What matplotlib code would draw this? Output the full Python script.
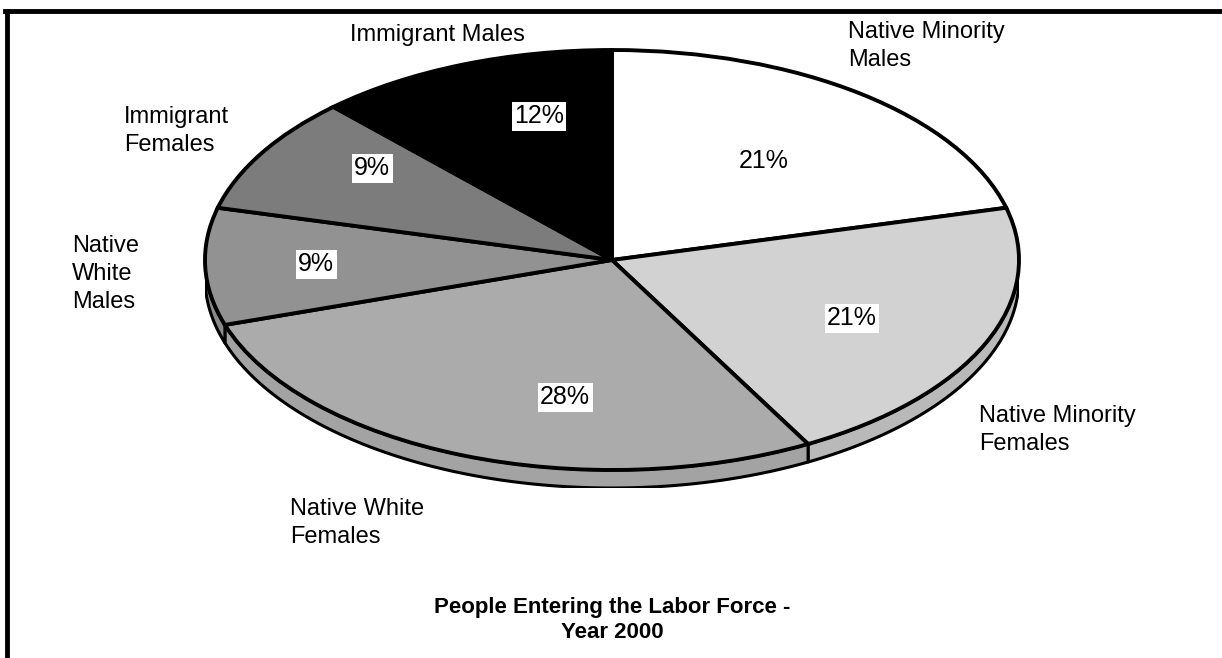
import numpy as np
import matplotlib
matplotlib.use("Agg")
import matplotlib.pyplot as plt
from matplotlib.lines import Line2D

plt.rcParams['font.family'] = ['Liberation Sans', 'DejaVu Sans']

# ---- data ----
categories = ["Native Minority\nMales", "Native Minority\nFemales", "Native White\nFemales",
              "Native\nWhite\nMales", "Immigrant\nFemales", "Immigrant Males"]
values = [21, 21, 28, 9, 9, 12]
pct_labels = ["21%", "21%", "28%", "9%", "9%", "12%"]
top_colors = ["#ffffff", "#d2d2d2", "#ababab", "#929292", "#7c7c7c", "#000000"]
side_colors = ["#e0e0e0", "#b9b9b9", "#a3a3a3", "#8a8a8a", "#747474", "#000000"]
title = "People Entering the Labor Force -\nYear 2000"

W, H = 1222, 658
fig = plt.figure(figsize=(W / 100, H / 100), dpi=100)

# ---- pie geometry (pixels) ----
cx_l, cx_r = 205, 1019
top_y, top_bottom = 50, 470
depth_px = 18
ry = (top_bottom - top_y) / 2
d = depth_px / ry

axp = fig.add_axes([cx_l / W, (H - top_bottom - depth_px) / H,
                    (cx_r - cx_l) / W, (top_bottom + depth_px - top_y) / H])

# side (depth) of the 3D pie
frac = np.array(values, dtype=float) / sum(values)
cum = np.concatenate([[0], np.cumsum(frac)])
for i in range(len(values)):
    a_hi = 90 - 360 * cum[i]
    a_lo = 90 - 360 * cum[i + 1]
    for shift in (0, 360, 720, -360):
        lo, hi = a_lo + shift, a_hi + shift
        s, e = max(lo, 180), min(hi, 360)
        if e > s:
            th = np.radians(np.linspace(s, e, 100))
            xs = np.concatenate([np.cos(th), np.cos(th[::-1])])
            ys = np.concatenate([np.sin(th), np.sin(th[::-1]) - d])
            axp.fill(xs, ys, facecolor=side_colors[i], edgecolor="black",
                     linewidth=2.2, zorder=1, joinstyle="round")

wedges, _ = axp.pie(values, colors=top_colors, startangle=90, counterclock=False,
                    radius=1.0, center=(0, 0),
                    wedgeprops=dict(edgecolor="black", linewidth=2.8))
for w in wedges:
    w.set_zorder(2)
axp.set_aspect("auto")
axp.set_xlim(-1, 1)
axp.set_ylim(-1 - d, 1)
axp.axis("off")

# ---- overlay for text ----
ax = fig.add_axes([0, 0, 1, 1], facecolor="none")
ax.set_xlim(0, W)
ax.set_ylim(H, 0)
ax.axis("off")

pct_pos = [(764, 161), (852, 318), (565, 397), (316, 264), (372, 168), (539, 116)]
for (x, y), t in zip(pct_pos, pct_labels):
    ax.text(x, y, t, ha="center", va="center", fontsize=18, color="black",
            bbox=dict(boxstyle="square,pad=0.1", facecolor="white", edgecolor="none"))

cat_pos = [(848, 46, "left"), (979, 430, "left"), (290, 523, "left"),
           (72, 274, "left"), (124, 131, "left"), (437, 35, "center")]
for (x, y, ha), t in zip(cat_pos, categories):
    ax.text(x, y, t, ha=ha, va="center", fontsize=17, linespacing=1.38)

ax.text(612, 620, title, ha="center", va="center", fontsize=16, fontweight="bold",
        linespacing=1.2)

# frame (top and left only)
fig.add_artist(Line2D([5 / W, 1], [1 - 11 / H, 1 - 11 / H], color="black", linewidth=3.5,
                      transform=fig.transFigure))
fig.add_artist(Line2D([7 / W, 7 / W], [0, 1 - 11 / H], color="black", linewidth=3.5,
                      transform=fig.transFigure))

fig.savefig("out.png", dpi=100, facecolor="white")
